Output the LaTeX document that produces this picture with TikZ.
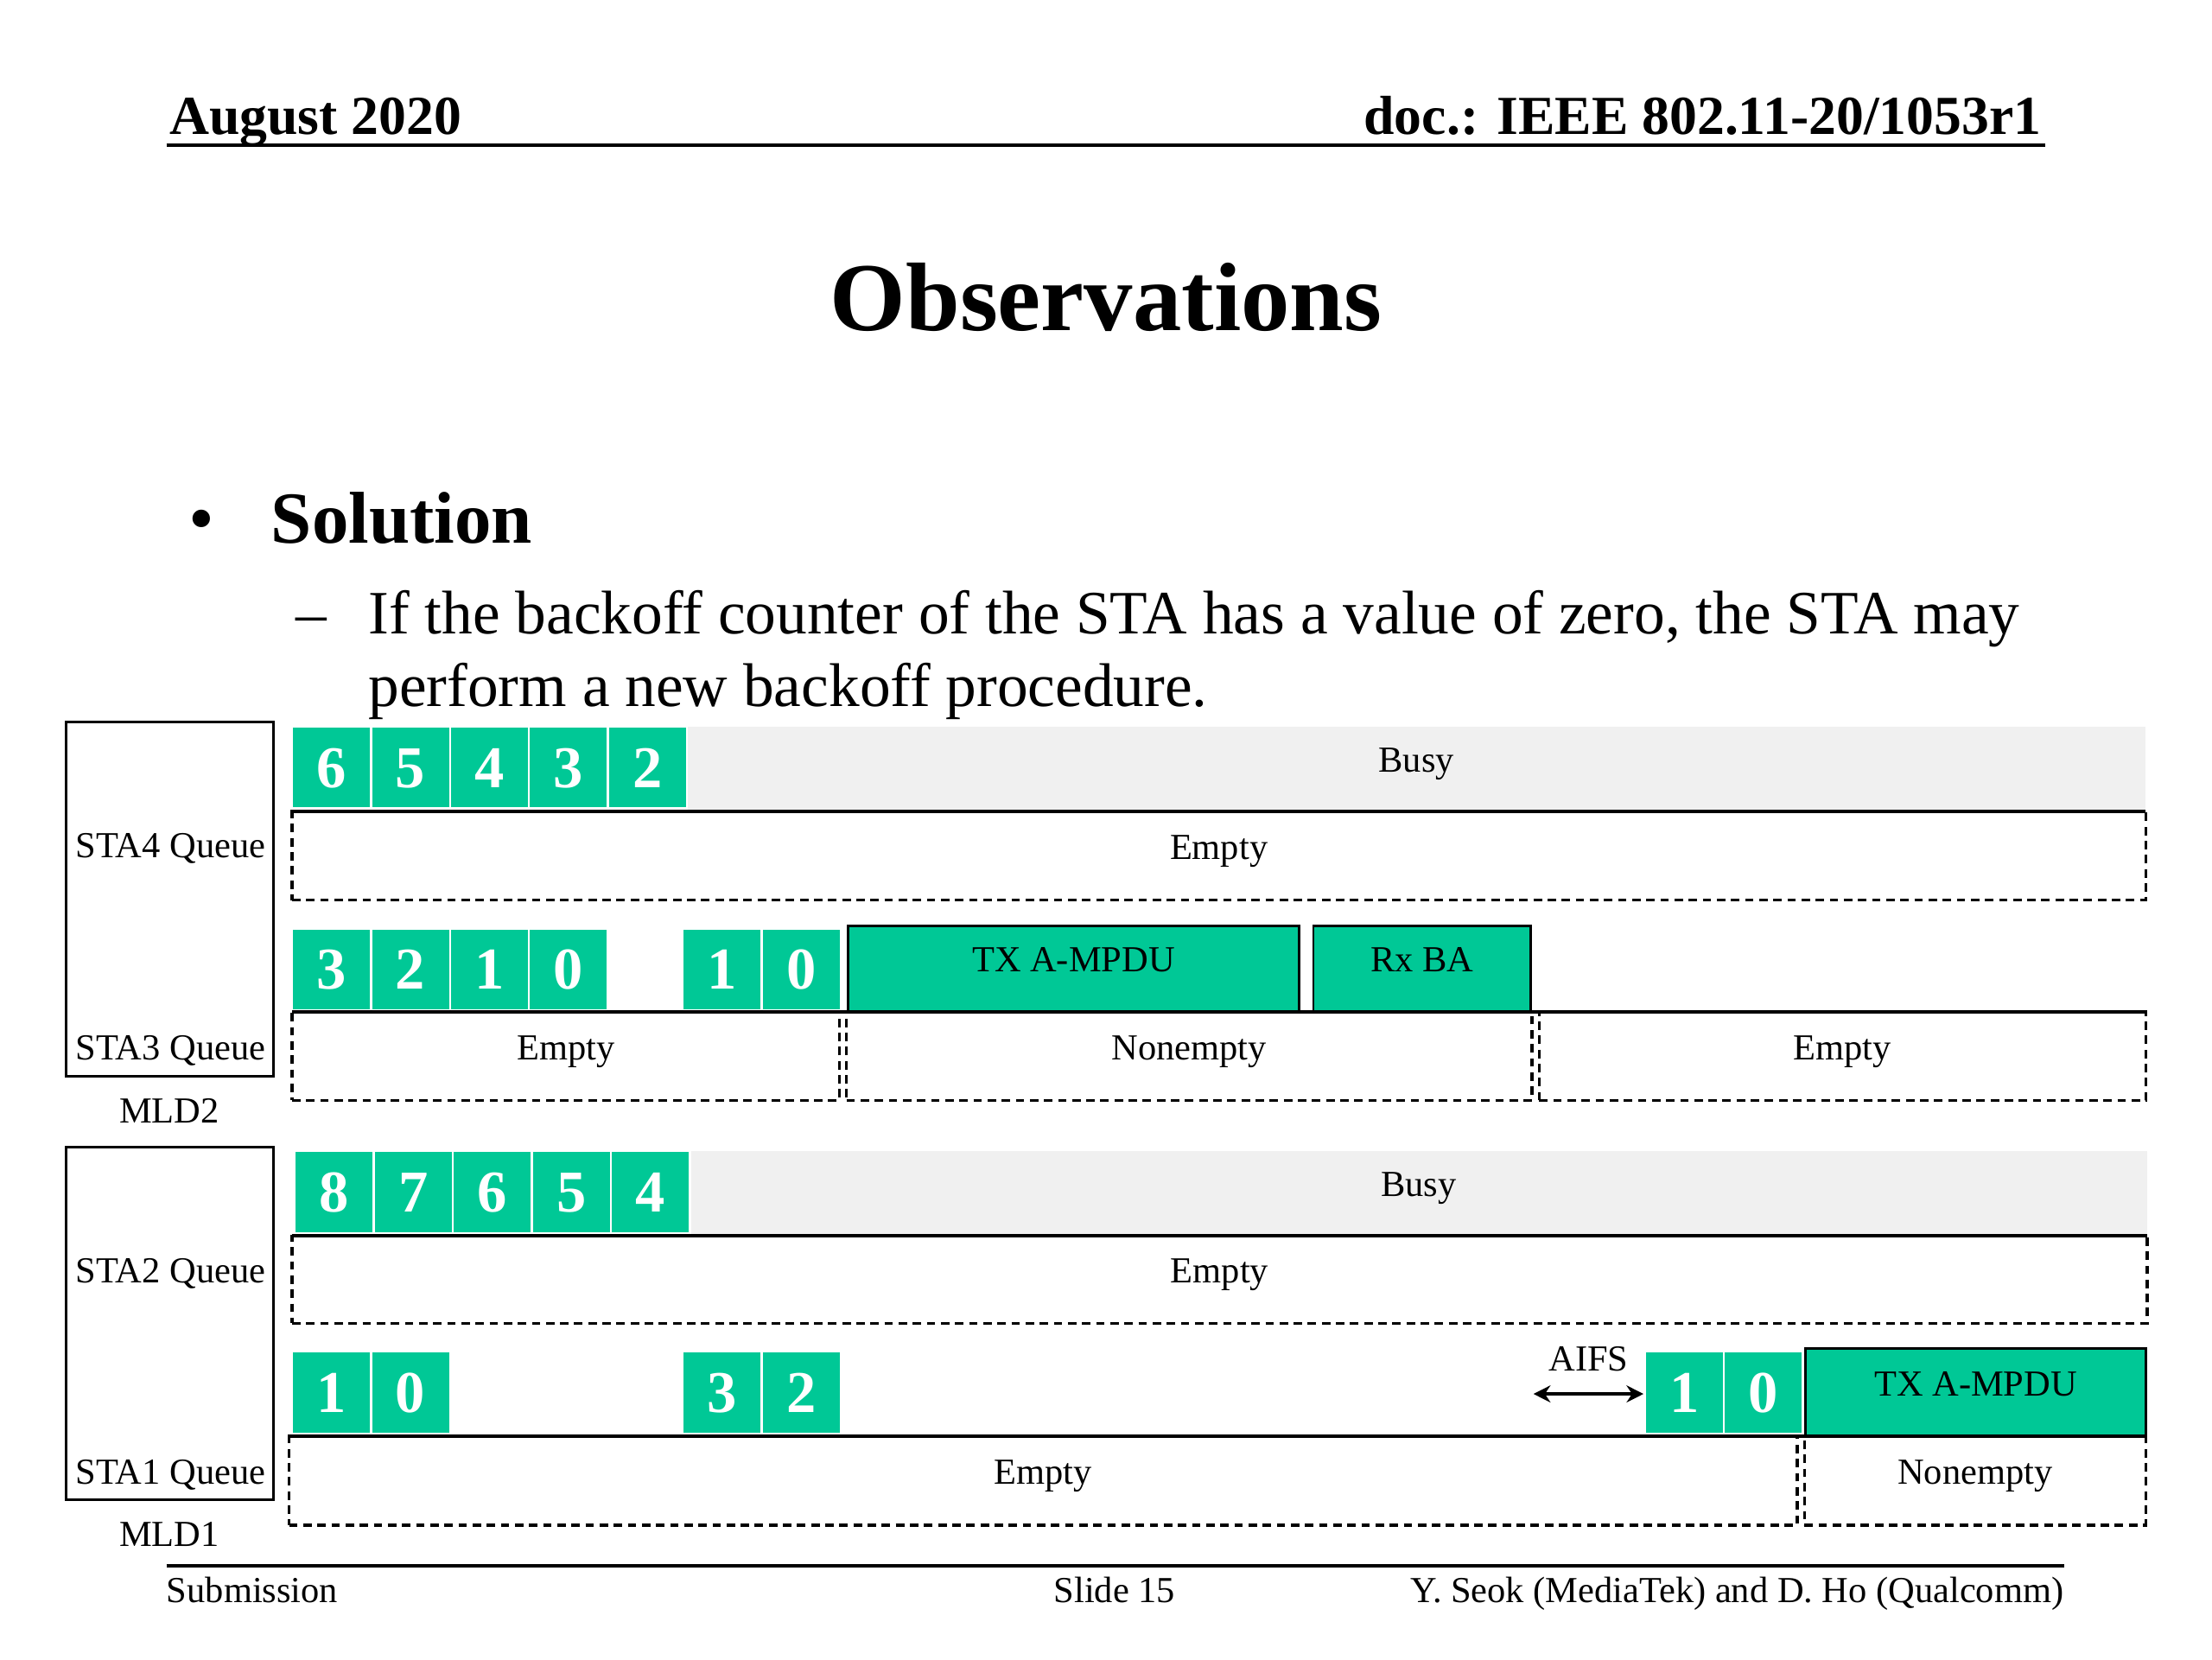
\documentclass[tikz,border=0pt]{standalone}
\usepackage{fontspec}
\setmainfont{Liberation Serif}
\usetikzlibrary{arrows.meta}
\definecolor{cntgreen}{RGB}{0,200,150}
\definecolor{busygray}{RGB}{240,240,240}
\tikzset{
  sml/.style={font=\fontsize{26}{30}\selectfont, text height=16.5pt, text depth=11.5pt},
  cnt/.style={fill=cntgreen, draw=white, line width=1.5pt, minimum width=56, minimum height=58,
    inner sep=0pt, outer sep=0pt, anchor=north west, text=white,
    font=\bfseries\fontsize{42}{42}\selectfont, text height=28pt, text depth=0pt},
  busybar/.style={fill=busygray, draw=none, inner sep=0pt, outer sep=0pt, anchor=north west, sml},
  qbox/.style={draw=black, dashed, dash pattern=on 6pt off 4pt, line width=2pt, inner sep=0pt,
    outer sep=0pt, anchor=north west, minimum height=63, sml},
  txbox/.style={fill=cntgreen, draw=black, line width=1.8pt, inner sep=0pt, outer sep=0pt,
    anchor=north west, sml},
  mldbox/.style={draw=black, line width=1.8pt, inner sep=0pt, outer sep=0pt, anchor=north west,
    minimum width=147},
  rowline/.style={line width=2.4pt},
  lbl/.style={font=\fontsize{26}{30}\selectfont, inner sep=0pt, anchor=base},
}
\begin{document}
\begin{tikzpicture}[x=1pt,y=-1pt]
\useasboundingbox (0,0) rectangle (1568,1176);
\fill[white] (0,0) rectangle (1568,1176);

% header
\node[anchor=base west, inner sep=0pt, font=\bfseries\fontsize{39}{40}\selectfont] (hdate) at (120,95) {August 2020};
\node[anchor=base east, inner sep=0pt, font=\bfseries\fontsize{39}{40}\selectfont] (hdoc) at (1447,95) {doc.: IEEE 802.11-20/1053r1};
\coordinate (hl1) at (118,103);
\coordinate (hl2) at (1450,103);
\draw[line width=2.4pt] (hl1) -- (hl2);

% title
\node[anchor=base, inner sep=0pt, font=\bfseries\fontsize{69}{70}\selectfont] (title) at (784,234) {Observations};

% bullets
\node[anchor=base, inner sep=0pt, font=\fontsize{52}{52}\selectfont] (bul) at (143,385) {•};
\node[anchor=base west, inner sep=0pt, font=\bfseries\fontsize{52}{52}\selectfont] (sol) at (192,385) {Solution};
\node[anchor=base, inner sep=0pt, font=\fontsize{43.7}{44}\selectfont] (dash1) at (221,449) {–};
\node[anchor=base west, inner sep=0pt, font=\fontsize{43.7}{44}\selectfont] (body1) at (261,449) {If the backoff counter of the STA has a value of zero, the STA may};
\node[anchor=base west, inner sep=0pt, font=\fontsize{43.7}{44}\selectfont] (body2) at (261,501) {perform a new backoff procedure.};

% MLD boxes
\node[mldbox, minimum height=251] (mld2) at (47,512) {};
\node[lbl] (sta4q) at (121,608) {STA4 Queue};
\node[lbl] (sta3q) at (121,751) {STA3 Queue};
\node[lbl] (mld2l) at (120,796) {MLD2};
\node[mldbox, minimum height=250] (mld1) at (47,813) {};
\node[lbl] (sta2q) at (121,909) {STA2 Queue};
\node[lbl] (sta1q) at (121,1052) {STA1 Queue};
\node[lbl] (mld1l) at (120,1096) {MLD1};

% ---------- STA4 ----------
\node[busybar, minimum width=1034, minimum height=59] (busy4) at (487,515) {Busy};
\node[cnt] (c4a) at (207,515) {6};
\node[cnt] (c4b) at (263,515) {5};
\node[cnt] (c4c) at (319,515) {4};
\node[cnt] (c4d) at (375,515) {3};
\node[cnt] (c4e) at (431,515) {2};
\node[qbox, minimum width=1314] (q4) at (207,575) {Empty};
\draw[rowline] (q4.north west) -- (q4.north east);

% ---------- STA3 ----------
\node[cnt] (c3a) at (207,658) {3};
\node[cnt] (c3b) at (263,658) {2};
\node[cnt] (c3c) at (319,658) {1};
\node[cnt] (c3d) at (375,658) {0};
\node[cnt] (c3e) at (484,658) {1};
\node[cnt] (c3f) at (540,658) {0};
\node[txbox, minimum width=320, minimum height=61] (tx3) at (601,656) {TX A-MPDU};
\node[txbox, minimum width=154, minimum height=61] (rx3) at (931,656) {Rx BA};
\node[qbox, minimum width=388] (q3a) at (207,717) {Empty};
\node[qbox, minimum width=486] (q3b) at (600,717) {Nonempty};
\node[qbox, minimum width=430] (q3c) at (1091,717) {Empty};
\draw[rowline] (q3a.north west) -- (q3c.north east);

% ---------- STA2 ----------
\node[busybar, minimum width=1033, minimum height=59] (busy2) at (489,816) {Busy};
\node[cnt] (c2a) at (209,816) {8};
\node[cnt] (c2b) at (265,816) {7};
\node[cnt] (c2c) at (321,816) {6};
\node[cnt] (c2d) at (377,816) {5};
\node[cnt] (c2e) at (433,816) {4};
\node[qbox, minimum width=1315, minimum height=62] (q2) at (207,876) {Empty};
\draw[rowline] (q2.north west) -- (q2.north east);

% ---------- STA1 ----------
\node[cnt] (c1a) at (207,958) {1};
\node[cnt] (c1b) at (263,958) {0};
\node[cnt] (c1c) at (484,958) {3};
\node[cnt] (c1d) at (540,958) {2};
\node[cnt] (c1e) at (1166,958) {1};
\node[cnt] (c1f) at (1222,958) {0};
\node[txbox, minimum width=241, minimum height=62] (tx1) at (1280,956) {TX A-MPDU};
\node[qbox, minimum width=1069] (q1a) at (205,1018) {Empty};
\node[qbox, minimum width=242] (q1b) at (1279,1018) {Nonempty};
\draw[rowline] (q1a.north west) -- (q1b.north east);

% AIFS
\coordinate (aifsL) at (1087,988);
\coordinate (aifsR) at (1165,988);
\draw[line width=2.8pt, {Stealth[length=12pt,width=12pt]}-{Stealth[length=12pt,width=12pt]}] (aifsL) -- (aifsR);
\node[lbl] (aifs) at (1126,972) {AIFS};

% footer
\coordinate (fl1) at (118,1110);
\coordinate (fl2) at (1463,1110);
\draw[line width=2.2pt] (fl1) -- (fl2);
\node[lbl, anchor=base west] (fsub) at (118,1136) {Submission};
\node[lbl, anchor=base] (fslide) at (790,1136) {Slide 15};
\node[lbl, anchor=base east] (fauth) at (1463,1136) {Y. Seok (MediaTek) and D. Ho (Qualcomm)};
\end{tikzpicture}
\end{document}
